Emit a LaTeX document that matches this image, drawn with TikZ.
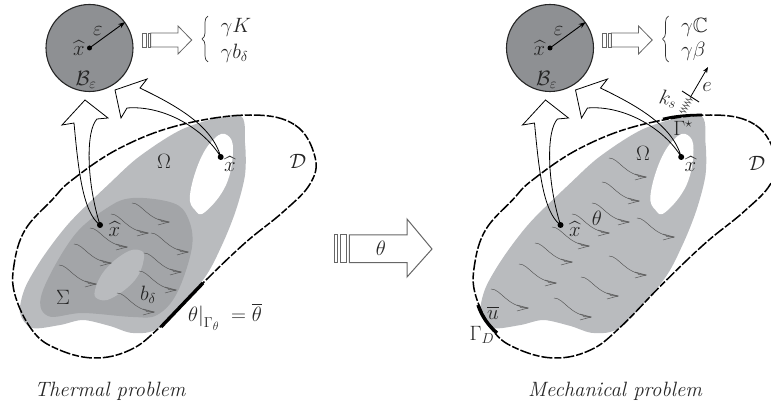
\documentclass[tikz,border=0pt]{standalone}
\usepackage{fontspec}
\usepackage{amssymb}
\usetikzlibrary{arrows.meta, decorations.pathmorphing, decorations.pathreplacing}
\definecolor{omegagray}{HTML}{B9BBBE}
\definecolor{sigmagray}{HTML}{A3A5A8}
\definecolor{ballgray}{HTML}{8E9093}
\def\leftpanel{L}
\tikzset{
  lab/.style={font=\huge, text=black!85, inner sep=0pt},
  title/.style={font=\huge\itshape\addfontfeatures{LetterSpace=15}, text=black!85, inner sep=0pt},
  hatdot/.style={circle, fill=black, minimum size=6pt, inner sep=0pt},
  ball/.style={circle, draw=black!85, line width=1.1pt, fill=ballgray, minimum size=87pt, inner sep=0pt},
  hollow/.style={draw=black, line width=0.8pt, line join=miter},
  blockarrow/.style={draw=black!60, line width=0.8pt},
  boundary/.style={line width=3.4pt, draw=black},
  curly/.style={draw=black!80, line width=0.7pt, decorate, decoration={brace, amplitude=6pt}},
  flux/.pic={
    \draw[black!65, line width=0.5pt] (0,0) .. controls (10,0) and (15,17) .. (37,19);
    \draw[black!65, line width=0.5pt] (26,16) -- (37,19) -- (26,22);
    \draw[black!65, line width=0.5pt] (29,18.5) -- (37,19.4);
  }
}
\begin{document}
\begin{tikzpicture}[x=1pt, y=-1pt]
\useasboundingbox (0,0) rectangle (771,403);
% domain, hole and the parts both panels share
\foreach \xs/\pn in {0/L, 460.5/R} {
\begin{scope}[xshift=\xs]
  \fill[omegagray] plot[smooth cycle, tension=0.5] coordinates {(239,115) (185,128) (140,156) (110,183) (70,222) (43,257) (25,288) (20,313) (32,328) (60,325) (83,320) (110,326) (133,333) (160,327) (203,280) (222,245) (236,210) (245,175) (245,143)};
  \ifx\pn\leftpanel
    \fill[sigmagray] plot[smooth cycle, tension=0.6] coordinates {(133,198) (173,203) (188,218) (192,247) (177,293) (157,315) (133,317) (83,313) (48,316) (42,293) (73,237) (107,208)};
    \fill[omegagray] plot[smooth cycle, tension=0.7] coordinates {(139,250) (144,258) (135,280) (112,298) (98,299) (95,290) (105,270) (125,253)};
  \fi
  \fill[white] plot[smooth cycle, tension=0.7] coordinates {(227,135) (233,150) (226,185) (205,212) (195,210) (190,195) (200,160) (215,138)};
  \draw[black, line width=1.5pt, dash pattern=on 11pt off 2pt on 7pt off 2pt] plot[smooth cycle, tension=0.65] coordinates {(250,115) (295,125) (315,157) (310,184) (283,212) (245,243) (203,283) (160,327) (130,350) (93,358) (55,348) (32,330) (15,295) (14,265) (25,230) (52,200) (72,180) (120,148) (180,125)};
  \node[ball] (ball\pn) at (89.5,48) {};
  \node[hatdot, minimum size=5pt] (ctr\pn) at (89.5,48) {};
  \draw[black, line width=0.9pt, -{Stealth[length=7pt, width=5pt]}] (ctr\pn.center) -- (ball\pn.36);
  \node[lab] (hatb\pn) at (79,48) {$\widehat{x}$};
  \node[lab] (eps\pn) at (98,31) {$\varepsilon$};
  \node[lab] (bb\pn) at (86,80) {$\mathcal{B}_\varepsilon$};
  % tail bars and small hollow arrow
  \draw[blockarrow] (150.7,33) -- (178,33) -- (178,26) -- (191.7,40) -- (178,54) -- (178,47) -- (150.7,47) -- cycle;
  \foreach \xa/\xb in {142.3/146, 148.3/150.7} {
    \draw[blockarrow] (\xa,33) rectangle (\xb,47);
  }
  % brace in front of the two symbols
  \coordinate (brA\pn) at (208,62);
  \coordinate (brB\pn) at (208,16);
  \draw[curly] (brA\pn) -- (brB\pn);
  % hollow curved arrows
  \node[hatdot] (low\pn) at (100,225) {};
  \node[hatdot] (high\pn) at (220.7,157) {};
  \draw[hollow] (low\pn.center) .. controls (82,212) and (78,165) .. (74,123) -- (62,125) -- (85,100) -- (108,118) -- (97,119) .. controls (86,130) and (86,180) .. (low\pn.center);
  \draw[hollow] (high\pn.center) .. controls (212,125) and (175,105) .. (140,88) -- (147,79) -- (115,90) -- (121,118) -- (127,108) .. controls (165,105) and (205,130) .. (high\pn.center);
  \node[lab] (hatl\pn) at (114.5,229) {$\widehat{x}$};
  \node[lab] (hath\pn) at (230,164) {$\widehat{x}$};
\end{scope}
}
\foreach \x/\y in {132/203, 111/214, 151/233, 90/228, 74/244, 144/253, 59/265, 139/271, 117/293} {
  \pic at (\x,\y) {flux};
}
\foreach \x/\y in {609/158, 602/182, 592/203, 572/214, 637/218, 552/227, 535/243, 609/256, 519/264, 581/277, 491/289, 554/298} {
  \pic at (\x,\y) {flux};
}
\node[lab, anchor=west] (kappa) at (220.5,27) {$\gamma K$};
\node[lab, anchor=west] (bheat) at (220.5,53) {$\gamma b_\delta$};
\node[lab, anchor=west] (stiff) at (681,27) {$\gamma\mathbb{C}$};
\node[lab, anchor=west] (beta) at (681,51) {$\gamma\beta$};
\node[lab] (omegaL) at (164,161) {$\Omega$};
\node[lab] (omegaR) at (643,153) {$\Omega$};
\node[lab] (domL) at (298,161) {$\mathcal{D}$};
\node[lab] (domR) at (757,163) {$\mathcal{D}$};
\node[lab] (sigma) at (63,297) {$\Sigma$};
\node[lab] (bdelta) at (148,295) {$b_\delta$};
\node[lab, anchor=west] (bc) at (188,317) {$\theta\big|_{\Gamma_\theta}\;=\overline{\theta}$};
\node[lab] (thetaR) at (597,218) {$\theta$};
\node[lab] (ubar) at (493,313) {$\overline{u}$};
\node[lab] (gammaD) at (482,335) {$\Gamma_D$};
\node[lab] (gammaS) at (683,128) {$\Gamma^\star$};
\node[lab, rotate=-10] (ks) at (668,99) {$k_s$};
\node[lab] (evec) at (707,87) {$e$};
\node[title] (titleL) at (110,391) {Thermal problem};
\node[title] (titleR) at (615,391) {Mechanical problem};
% thick boundary pieces
\draw[boundary] (161,327) -- (182,305) -- (203,283);
\draw[boundary] (478,305) .. controls (482,317) and (489,326) .. (497,333);
\draw[boundary, line width=2.6pt] (663,119) .. controls (675,116) and (688,115) .. (702,115);
% spring
\coordinate (sprA) at (682,113);
\coordinate (sprB) at (690.5,97);
\draw[black!70, line width=0.5pt, decorate, decoration={zigzag, amplitude=3pt, segment length=3.4pt}] (sprA) -- (sprB);
\coordinate (barA) at (682,91);
\coordinate (barB) at (699,102);
\draw[black, line width=0.9pt] (barA) -- (barB);
\coordinate (eTip) at (708,67);
\draw[black, line width=0.8pt, -{Stealth[length=6pt, width=4.5pt]}] (sprB) -- (eTip);
% big arrow
\draw[blockarrow, line width=1pt] (349.3,235) -- (407,235) -- (407,219) -- (432,249) -- (407,277) -- (407,262.7) -- (349.3,262.7) -- cycle;
\foreach \xa/\xb in {334/337.7, 340/346.7} {
  \draw[blockarrow, line width=1pt] (\xa,235) rectangle (\xb,262.7);
}
\node[lab] (thetaC) at (381,248) {$\theta$};
\end{tikzpicture}
\end{document}
